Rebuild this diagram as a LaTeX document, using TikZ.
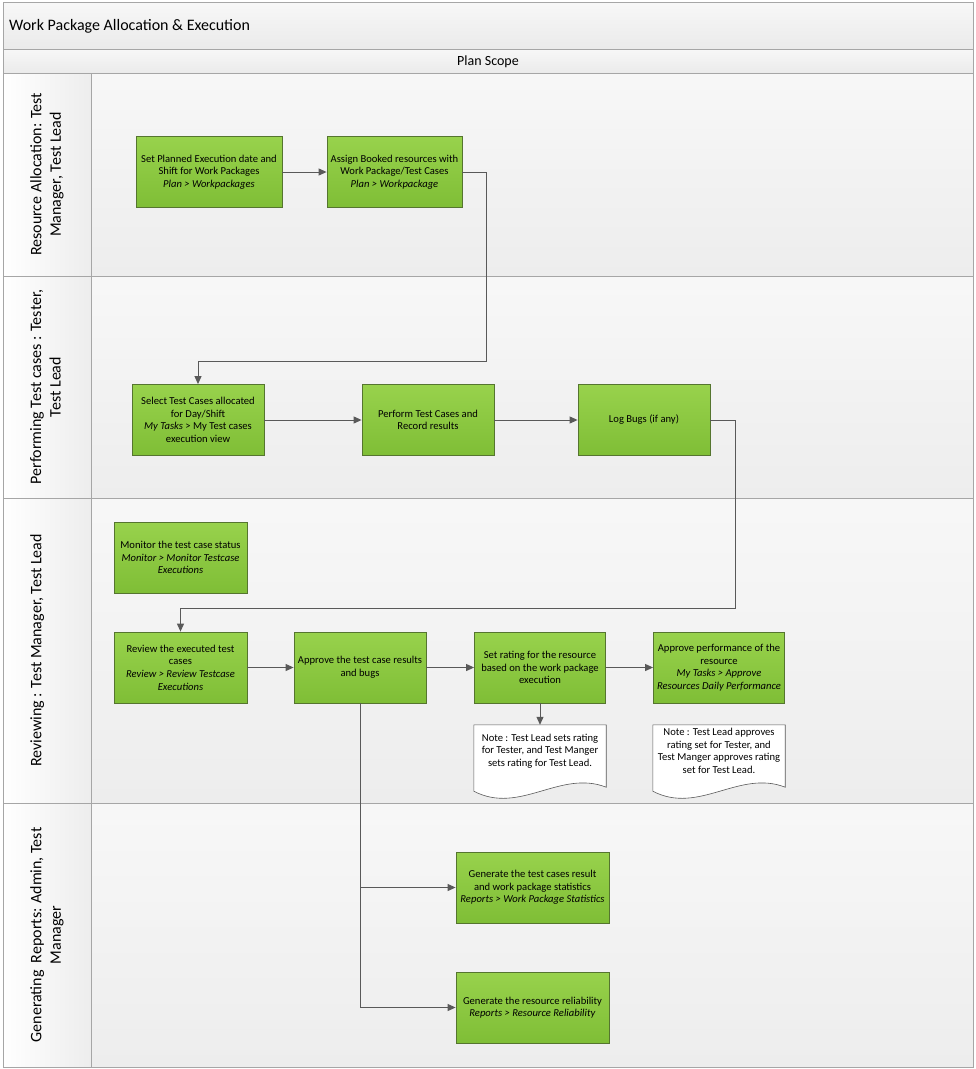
\documentclass[tikz,border=0pt]{standalone}
\usepackage{fontspec}
\setmainfont{Carlito}
\usetikzlibrary{arrows.meta}

\definecolor{tasktop}{HTML}{98D24C}
\definecolor{taskbottom}{HTML}{7FBE36}
\definecolor{taskline}{HTML}{55752F}
\definecolor{frameline}{HTML}{A6A6A6}
\definecolor{flowline}{HTML}{595959}
\definecolor{lanegray}{HTML}{EDEDED}

\newcommand\taskfont{\fontsize{10.6pt}{12.6pt}\selectfont}
\newcommand\lanefont{\fontsize{16pt}{19.5pt}\selectfont}

\tikzset{
  task/.style={draw=taskline, line width=0.8pt, top color=tasktop, bottom color=taskbottom,
    align=center, font=\taskfont, inner sep=2pt, minimum width=#1, minimum height=71pt},
  task/.default=132pt,
  notetext/.style={align=center, font=\taskfont, inner sep=0pt, minimum width=132pt, minimum height=52pt},
  notebox/.style={draw=flowline, line width=0.6pt, fill=white},
  lanelabel/.style={rotate=90, anchor=north, align=center, font=\lanefont, inner sep=0pt},
  flow/.style={draw=flowline, line width=1pt, -{Triangle[length=8pt,width=7pt]}},
}

% wavy bottomed note shape round a text node
\newcommand\docshape[1]{%
  \draw[notebox] (#1.north west) -- (#1.north east) -- ([yshift=-10pt]#1.south east)
    .. controls ([xshift=-46pt,yshift=8pt]#1.south east) and ([xshift=46pt,yshift=-38pt]#1.south west)
    .. ([yshift=-14pt]#1.south west) -- cycle;}

\begin{document}
\begin{tikzpicture}[x=1pt, y=-1pt]
  \useasboundingbox (0,0) rectangle (976,1069);

  % pool and lanes
  \shade[top color=white!97!black, bottom color=white!92!black] (3,2) rectangle (973,49);
  \shade[top color=white!97!black, bottom color=white!92!black] (3,49) rectangle (973,73);
  \foreach \ltop/\lbot in {73/276, 276/498, 498/803, 803/1067} {
    \shade[left color=white, right color=lanegray] (3,\ltop) rectangle (91,\lbot);
    \shade[top color=white!97!black, bottom color=lanegray] (91,\ltop) rectangle (973,\lbot);
    \draw[frameline, line width=0.8pt] (3,\ltop) rectangle (91,\lbot);
    \draw[frameline, line width=0.8pt] (91,\ltop) rectangle (973,\lbot);
  }
  \draw[frameline, line width=0.8pt] (3,2) rectangle (973,49);
  \draw[frameline, line width=0.8pt] (3,49) rectangle (973,73);
  \draw[frameline, line width=0.8pt] (3,2) rectangle (973,1067);

  \node[anchor=west, font=\fontsize{16pt}{19pt}\selectfont, inner sep=0pt] (title) at (9,26) {Work Package Allocation \& Execution};
  \node[font=\fontsize{14pt}{17pt}\selectfont, inner sep=0pt] (scope) at (488,61.5) {Plan Scope};

  \node[lanelabel] (alloc) at (30,174.5) {Resource Allocation: Test\\Manager, Test Lead};
  \node[lanelabel] (perform) at (30,387) {Performing Test cases : Tester,\\Test Lead};
  \node[lanelabel] (review) at (30,650.5) {Reviewing : Test Manager, Test Lead};
  \node[lanelabel] (report) at (30,935) {Generating\ \ Reports: Admin, Test\\Manager};

  % tasks
  \node[task=146pt] (plandate) at (209,172) {Set Planned Execution date and\\Shift for Work Packages\\\textit{Plan > Workpackages}};
  \node[task=135pt] (assign) at (394.5,172) {Assign Booked resources with\\Work Package/Test Cases\\\textit{Plan > Workpackage}};
  \node[task] (select) at (198,420) {Select Test Cases allocated\\for Day/Shift\\\textit{My Tasks} > My Test cases\\execution view};
  \node[task] (execute) at (428,420) {Perform Test Cases and\\Record results};
  \node[task] (logbugs) at (644,420) {Log Bugs (if any)};
  \node[task=133pt] (monitor) at (180.5,557.5) {Monitor the test case status\\\textit{Monitor > Monitor Testcase}\\\textit{Executions}};
  \node[task=133pt] (reviewtc) at (180.5,667.5) {Review the executed test\\cases\\\textit{Review > Review Testcase}\\\textit{Executions}};
  \node[task] (approvetc) at (360,667.5) {Approve the test case results\\and bugs};
  \node[task=131pt] (rating) at (540,667.5) {Set rating for the resource\\based on the work package\\execution};
  \node[task=131pt] (approveperf) at (719,667.5) {Approve performance of the\\resource\\\textit{My Tasks > Approve}\\\textit{Resources Daily Performance}};
  \node[task=153pt] (stats) at (532.5,887.5) {Generate the test cases result\\and work package statistics\\\textit{Reports > Work Package Statistics}};
  \node[task=153pt] (reliability) at (532.5,1007.5) {Generate the resource reliability\\\textit{Reports > Resource Reliability}};

  % notes
  \node[notetext] (ratingnote) at (540,751) {};
  \docshape{ratingnote}
  \node[notetext] at (ratingnote) {Note : Test Lead sets rating\\for Tester, and Test Manger\\sets rating for Test Lead.};
  \node[notetext] (perfnote) at (719,751) {};
  \docshape{perfnote}
  \node[notetext] at (perfnote) {Note : Test Lead approves\\rating set for Tester, and\\Test Manger approves rating\\set for Test Lead.};

  % connectors
  \coordinate (turnA) at (486,361);
  \coordinate (turnB) at (735,608);
  \draw[flow] (plandate) -- (assign);
  \draw[flow] (assign.east) -| (turnA) -| (select.north);
  \draw[flow] (select) -- (execute);
  \draw[flow] (execute) -- (logbugs);
  \draw[flow] (logbugs.east) -| (turnB) -| (reviewtc.north);
  \draw[flow] (reviewtc) -- (approvetc);
  \draw[flow] (approvetc) -- (rating);
  \draw[flow] (rating) -- (approveperf);
  \draw[flow] (rating.south) -- (ratingnote.north);
  \draw[flow] (approvetc.south) |- (stats.west);
  \draw[flow] (approvetc.south) |- (reliability.west);
\end{tikzpicture}
\end{document}
